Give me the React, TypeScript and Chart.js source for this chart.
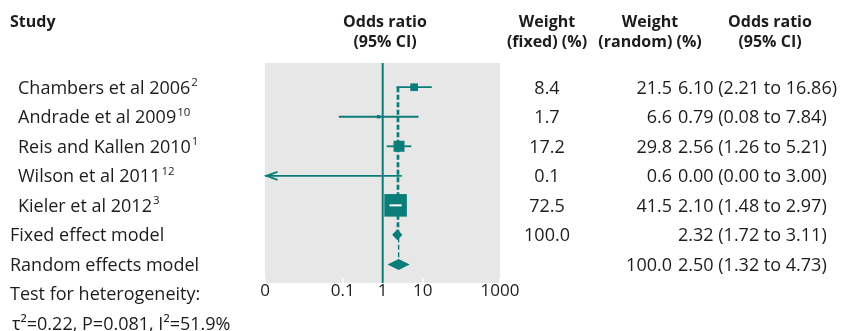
import React, { useEffect, useRef } from "react";
import { Chart, registerables } from "chart.js";

Chart.register(...registerables);

// ---------- data ----------
const studies = [
  "Chambers et al 2006",
  "Andrade et al 2009",
  "Reis and Kallen 2010",
  "Wilson et al 2011",
  "Kieler et al 2012",
];
const studyRefs = ["2", "10", "1", "12", "3"];
const oddsRatios = [6.1, 0.79, 2.56, 0.0, 2.1];
const lowerCI = [2.21, 0.08, 1.26, 0.0, 1.48];
const upperCI = [16.86, 7.84, 5.21, 3.0, 2.97];
const weightFixed = [8.4, 1.7, 17.2, 0.1, 72.5];
const weightRandom = [21.5, 6.6, 29.8, 0.6, 41.5];

const pooledLabels = ["Fixed effect model", "Random effects model"];
const pooledOR = [2.32, 2.5];
const pooledLower = [1.72, 1.32];
const pooledUpper = [3.11, 4.73];
const pooledWeightFixed = ["100.0", ""];
const pooledWeightRandom = ["", "100.0"];

const tickLabels = ["0", "0.1", "1", "10", "1000"];
const tickInner = [0.1, 1, 10];

const heterogeneityTitle = "Test for heterogeneity:";
const heterogeneityStats = "τ²=0.22, P=0.081, I²=51.9%";

// ---------- styles ----------
const TEAL = "#0b7d78";
const GREY = "#e7e7e7";
const TEXT = "#1c1c1c";
const FONT = "'Open Sans', 'Noto Sans', sans-serif";
const X_MIN = 0.001142;
const X_MAX = 856;
const Y_MIN = 0.18;
const Y_MAX = 7.63;

const squareSide = (w: number) => 2.65 * Math.sqrt(w);
const fmt2 = (v: number) => v.toFixed(2);
const orText = (o: number, l: number, u: number) =>
  `${fmt2(o)} (${fmt2(l)} to ${fmt2(u)})`;

export default function App() {
  const ref = useRef<HTMLCanvasElement>(null);

  useEffect(() => {
    const canvas = ref.current!;
    const nS = studies.length;
    const clampX = (v: number) => Math.min(Math.max(v, X_MIN), X_MAX);

    const datasets: any[] = [];
    // line of no effect
    datasets.push({
      data: [
        { x: 1, y: Y_MIN },
        { x: 1, y: Y_MAX },
      ],
      showLine: true,
      borderColor: TEAL,
      borderWidth: 2,
      pointRadius: 0,
      order: 4,
    });
    // dashed pooled lines
    pooledOR.forEach((v, k) => {
      datasets.push({
        data: [
          { x: v, y: 1 },
          { x: v, y: nS + 1 + k },
        ],
        showLine: true,
        borderColor: TEAL,
        borderWidth: 1.4,
        borderDash: [5, 2.5],
        pointRadius: 0,
        order: 3,
      });
    });
    // CI lines
    studies.forEach((_, i) => {
      datasets.push({
        data: [
          { x: clampX(lowerCI[i]), y: i + 1 },
          { x: clampX(upperCI[i]), y: i + 1 },
        ],
        showLine: true,
        borderColor: TEAL,
        borderWidth: 1.8,
        pointRadius: 0,
        order: 2,
      });
    });
    // squares
    const sqData: any[] = [];
    const sqRadius: number[] = [];
    studies.forEach((_, i) => {
      if (oddsRatios[i] > 0) {
        sqData.push({ x: oddsRatios[i], y: i + 1 });
        sqRadius.push(squareSide(weightFixed[i]) / Math.SQRT2);
      }
    });
    datasets.push({
      data: sqData,
      showLine: false,
      pointStyle: "rect",
      pointRadius: sqRadius,
      pointBackgroundColor: TEAL,
      pointBorderWidth: 0,
      order: 1,
    });

    const forestPlugin = {
      id: "forest",
      beforeDraw(chart: any) {
        const { ctx, chartArea: a } = chart;
        ctx.save();
        ctx.fillStyle = GREY;
        ctx.fillRect(a.left, a.top, a.right - a.left, a.bottom - a.top);
        ctx.restore();
      },
      afterDatasetsDraw(chart: any) {
        const { ctx, chartArea: a } = chart;
        const xs = chart.scales.x;
        const ys = chart.scales.y;
        ctx.save();
        // white CI line inside large squares
        studies.forEach((_, i) => {
          if (!(oddsRatios[i] > 0)) return;
          const half = squareSide(weightFixed[i]) / 2;
          const xc = xs.getPixelForValue(oddsRatios[i]);
          const xl = xs.getPixelForValue(lowerCI[i]);
          const xr = xs.getPixelForValue(upperCI[i]);
          if (xl > xc - half && xr < xc + half) {
            const y = ys.getPixelForValue(i + 1);
            ctx.strokeStyle = "#ffffff";
            ctx.lineWidth = 2;
            ctx.beginPath();
            ctx.moveTo(xl, y);
            ctx.lineTo(xr, y);
            ctx.stroke();
          }
        });
        // arrow for CI beyond the left edge
        studies.forEach((_, i) => {
          if (lowerCI[i] < X_MIN) {
            const y = ys.getPixelForValue(i + 1);
            const x0 = a.left + 1.5;
            ctx.strokeStyle = TEAL;
            ctx.lineWidth = 1.8;
            ctx.beginPath();
            ctx.moveTo(x0 + 11, y - 4);
            ctx.lineTo(x0, y);
            ctx.lineTo(x0 + 11, y + 4);
            ctx.stroke();
          }
        });
        // diamonds
        pooledOR.forEach((v, k) => {
          const y = ys.getPixelForValue(nS + 1 + k);
          const xl = xs.getPixelForValue(pooledLower[k]);
          const xc = xs.getPixelForValue(v);
          const xr = xs.getPixelForValue(pooledUpper[k]);
          const h = 5.5;
          ctx.fillStyle = TEAL;
          ctx.beginPath();
          ctx.moveTo(xl, y);
          ctx.lineTo(xc, y - h);
          ctx.lineTo(xr, y);
          ctx.lineTo(xc, y + h);
          ctx.closePath();
          ctx.fill();
        });
        ctx.restore();
      },
      afterDraw(chart: any) {
        const { ctx } = chart;
        const ys = chart.scales.y;
        const base = (row: number) => ys.getPixelForValue(row) + 6.3;
        ctx.save();
        ctx.fillStyle = TEXT;
        ctx.textBaseline = "alphabetic";
        // headers
        ctx.font = `bold 16px ${FONT}`;
        ctx.textAlign = "left";
        ctx.fillText("Study", 10, 26.7);
        ctx.textAlign = "center";
        ctx.fillText("Odds ratio", 385, 26.7);
        ctx.fillText("(95% CI)", 385, 46.5);
        ctx.fillText("Weight", 547, 26.7);
        ctx.fillText("(fixed) (%)", 547, 46.5);
        ctx.fillText("Weight", 650, 26.7);
        ctx.fillText("(random) (%)", 650, 46.5);
        ctx.fillText("Odds ratio", 770, 26.7);
        ctx.fillText("(95% CI)", 770, 46.5);

        const body = `18px ${FONT}`;
        const sup = `11.5px ${FONT}`;
        studies.forEach((s, i) => {
          const y = base(i + 1);
          ctx.font = body;
          ctx.textAlign = "left";
          ctx.fillText(s, 18, y);
          const w = ctx.measureText(s).width;
          ctx.font = sup;
          ctx.fillText(studyRefs[i], 18 + w + 1, y - 7.5);
          ctx.font = body;
          ctx.textAlign = "center";
          ctx.fillText(weightFixed[i].toFixed(1), 547, y);
          ctx.textAlign = "right";
          ctx.fillText(weightRandom[i].toFixed(1), 672, y);
          ctx.textAlign = "left";
          ctx.fillText(orText(oddsRatios[i], lowerCI[i], upperCI[i]), 678, y);
        });
        pooledLabels.forEach((s, k) => {
          const y = base(nS + 1 + k);
          ctx.font = body;
          ctx.textAlign = "left";
          ctx.fillText(s, 10, y);
          ctx.textAlign = "center";
          ctx.fillText(pooledWeightFixed[k], 547, y);
          ctx.textAlign = "right";
          ctx.fillText(pooledWeightRandom[k], 672, y);
          ctx.textAlign = "left";
          ctx.fillText(orText(pooledOR[k], pooledLower[k], pooledUpper[k]), 678, y);
        });
        ctx.font = body;
        ctx.textAlign = "left";
        ctx.fillText(heterogeneityTitle, 10, base(nS + 3));
        ctx.fillText(heterogeneityStats, 12, base(nS + 4));
        ctx.restore();
      },
    };

    const chart = new Chart(canvas, {
      type: "scatter",
      data: { datasets },
      plugins: [forestPlugin],
      options: {
        animation: false,
        responsive: false,
        events: [],
        layout: { padding: { left: 265, right: 352, top: 63, bottom: 0 } },
        plugins: { legend: { display: false }, tooltip: { enabled: false } },
        scales: {
          x: {
            type: "logarithmic",
            min: X_MIN,
            max: X_MAX,
            border: { display: false },
            grid: {
              display: true,
              drawOnChartArea: false,
              drawTicks: true,
              tickLength: -5,
              color: "#ffffff",
              lineWidth: 1.5,
            },
            afterBuildTicks: (s: any) => {
              s.ticks = [X_MIN, ...tickInner, X_MAX].map((v) => ({ value: v }));
            },
            afterFit: (s: any) => {
              s.height = 48;
            },
            ticks: {
              autoSkip: false,
              maxRotation: 0,
              padding: 3,
              color: TEXT,
              font: { family: FONT, size: 17 },
              callback: (_v: any, idx: number) => tickLabels[idx],
            },
          },
          y: {
            type: "linear",
            reverse: true,
            min: Y_MIN,
            max: Y_MAX,
            display: false,
          },
        },
      },
    });
    return () => chart.destroy();
  }, []);

  return (
    <div style={{ position: "fixed", left: 0, top: 0, width: 852, height: 331, background: "#fff" }}>
      <canvas ref={ref} width={852} height={331} style={{ display: "block" }} />
    </div>
  );
}
